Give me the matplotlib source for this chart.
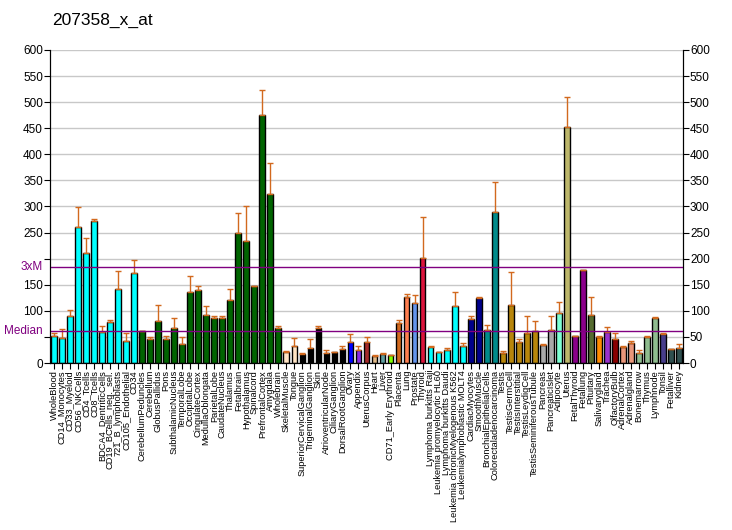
import matplotlib
matplotlib.use("Agg")
import matplotlib.pyplot as plt
import numpy as np

plt.rcParams['font.family'] = ['Liberation Sans', 'DejaVu Sans']

# tissue names, as printed under the bars
tissues = [
    "WholeBlood", "CD14_Monocytes", "CD33_Myeloid", "CD56_NKCells", "CD4_Tcells",
    "CD8_Tcells", "BDCA4_DentriticCells", "CD19_BCells_neg._sel.", "721_B_lymphoblasts",
    "CD105_Endothelial", "CD34", "CerebellumPeduncles", "Cerebellum", "GlobusPallidus",
    "Pons", "SubthalamicNucleus", "TemporalLobe", "OccipitalLobe", "CingulateCortex",
    "MedullaOblongata", "ParietalLobe", "CaudateNucleus", "Thalamus", "Fetalbrain",
    "Hypothalamus", "Spinalcord", "PrefrontalCortex", "Amygdala", "Wholebrain",
    "SkeletalMuscle", "Tongue", "SuperiorCervicalGanglion", "TrigeminalGanglion", "Skin",
    "AtrioventricularNode", "CiliaryGanglion", "DorsalRootGanglion", "Ovary", "Appendix",
    "UterusCorpus", "Heart", "Liver", "CD71_Early Erythroid", "Placenta", "Lung",
    "Prostate", "Thyroid", "Lymphoma burkitts Raji", "Leukemia promyelocytic HL60",
    "Lymphoma burkitts Daudi", "Leukemia chronicMyelogenous K562",
    "Leukemialymphoblastic MOLT4", "CardiacMyocytes", "SmoothMuscle",
    "BronchialEpithelialCells", "Colorectaladenocarcinoma", "Testis", "TestisGermCell",
    "TestisInterstitial", "TestisLeydigCell", "TestisSeminiferousTubule", "Pancreas",
    "PancreaticIslet", "Adipocyte", "Uterus", "FetalThyroid", "Fetallung", "Pituitary",
    "Salivarygland", "Trachea", "OlfactoryBulb", "AdrenalCortex", "Adrenalgland",
    "Bonemarrow", "Thymus", "Lymphnode", "Tonsil", "Fetalliver", "Kidney",
]

values = [
    52, 48, 90, 261, 211, 272, 59, 79, 142, 42, 173,
    61, 46, 81, 46, 67, 36, 136, 140, 92, 86,
    86, 121, 249, 234, 148, 475, 324, 68,
    21, 33, 18, 29, 67, 19, 22, 27, 40, 25, 40, 13, 17, 15,
    77, 127, 115, 201,
    31, 21, 25, 109, 33,
    84, 125, 63, 290,
    19, 111, 40, 57, 61,
    35, 63, 96, 452, 52, 178, 92, 50, 59, 46, 31, 38,
    19, 50, 86, 56, 27, 29,
]

# upper end of the error whisker (same as value when none is drawn)
err_top = [
    57, 65, 102, 299, 240, 276, 71, 82, 176, 57, 198,
    61, 50, 111, 52, 86, 50, 167, 148, 109, 90,
    90, 142, 288, 301, 148, 523, 383, 71,
    23, 48, 19, 46, 70, 25, 22, 32, 56, 33, 50, 15, 19, 15,
    82, 132, 130, 280,
    33, 21, 29, 136, 38,
    90, 127, 73, 347,
    23, 174, 46, 90, 80,
    36, 90, 117, 510, 52, 178, 126, 52, 69, 57, 33, 42,
    25, 52, 88, 57, 27, 36,
]

colors = (
    ["#00FFFF"] * 11 + ["#006400"] * 18 + ["#FFE4C4"] * 2 + ["#000000"] * 6
    + ["#0000FF", "#8A2BE2", "#A52A2A", "#DEB887", "#5F9EA0", "#7FFF00",
       "#D2691E", "#FF7F50", "#6495ED", "#DC143C"]
    + ["#00FFFF"] * 5 + ["#00008B"] * 2 + ["#008B8B"] * 2 + ["#B8860B"] * 5
    + ["#A9A9A9"] * 2
    + ["#7FFFD4", "#BDB76B", "#8B008B", "#8B008B", "#556B2F", "#FF8C00", "#9932CC",
       "#8B0000", "#E9967A", "#E9967A", "#8FBC8F", "#8FBC8F", "#8FBC8F", "#483D8B",
       "#2F4F4F", "#2F4F4F"]
)

median = 61.3
title = "207358_x_at"

fig = plt.figure(figsize=(7.32, 5.30), dpi=100)
ax = fig.add_axes([50 / 732, 1 - 363 / 530, 633 / 732, 313 / 530])

x = np.arange(len(values))
vals = np.array(values)
errs = np.array(err_top) - vals

ax.set_axisbelow(True)
ax.yaxis.grid(True, color="#C8C8C8", linewidth=1)
ax.bar(x, vals, width=0.72, color=colors, edgecolor="black", linewidth=1, zorder=2)
ax.errorbar(x, vals, yerr=[np.zeros_like(errs), errs], fmt="none",
            ecolor="#D2691E", elinewidth=1, capsize=2.5, capthick=1, zorder=3)

ax.axhline(median, color="#800080", linewidth=1, zorder=4)
ax.axhline(3 * median, color="#800080", linewidth=1, zorder=4)

ax.set_xlim(-0.5, len(values) - 0.5)
ax.set_ylim(0, 600)
ticks = np.arange(0, 601, 50)
ax.set_yticks(ticks)
ax.set_yticklabels(["" if t in (50, 200) else str(t) for t in ticks], fontsize=8.5)
ax.set_xticks(x)
ax.set_xticklabels(tissues, rotation=90, fontsize=6.7)
ax.tick_params(axis="x", length=4, pad=1)
ax.tick_params(axis="y", length=4, pad=1)

ax.text(-0.012, median, "Median", transform=ax.get_yaxis_transform(),
        ha="right", va="center", color="#800080", fontsize=8.5)
ax.text(-0.012, 3 * median, "3xM", transform=ax.get_yaxis_transform(),
        ha="right", va="center", color="#800080", fontsize=8.5)

ax2 = ax.twinx()
ax2.set_ylim(0, 600)
ax2.set_yticks(ticks)
ax2.set_yticklabels([str(t) for t in ticks], fontsize=8.5)
ax2.tick_params(axis="y", length=4, pad=1)

for a in (ax, ax2):
    a.spines["top"].set_visible(False)

fig.text(52 / 732, 1 - 20 / 530, title, fontsize=12.5, ha="left", va="center")

fig.savefig("out.png", dpi=100)
